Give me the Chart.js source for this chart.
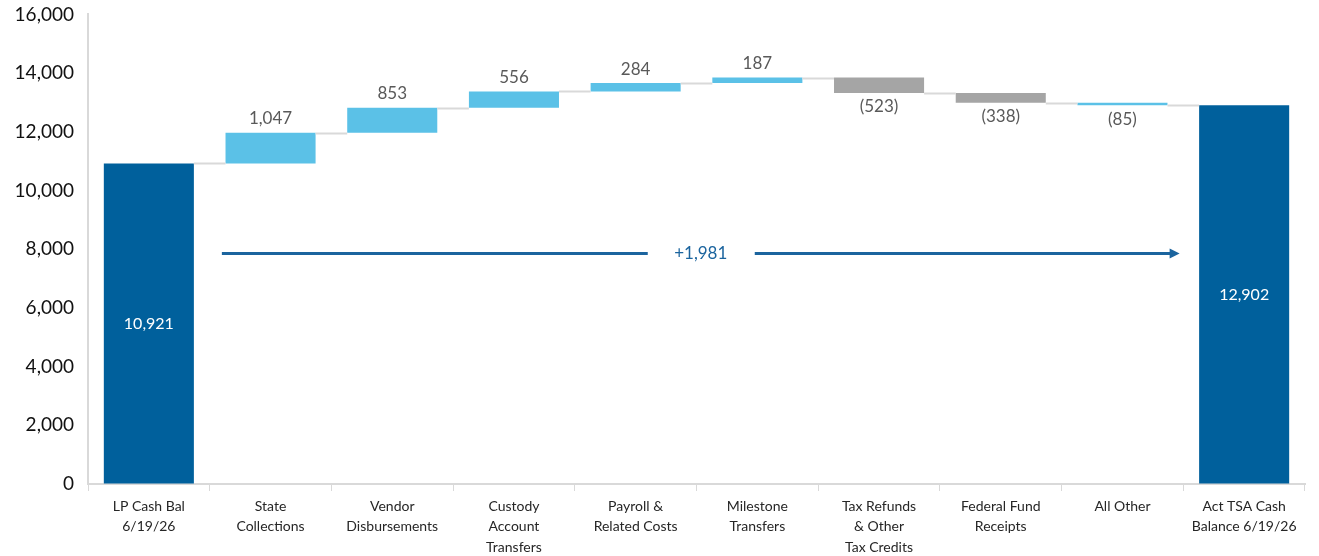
<!DOCTYPE html>
<html><head><meta charset="utf-8">
<script src="https://cdn.jsdelivr.net/npm/chart.js@4"></script>
<style>html,body{margin:0;padding:0;background:#fff}#wrap{width:1319px;height:556px}</style>
</head><body><div id="wrap"><canvas id="c"></canvas></div>
<script>
const categories = [["LP Cash Bal","6/19/26"],["State","Collections"],["Vendor","Disbursements"],["Custody","Account","Transfers"],["Payroll &","Related Costs"],["Milestone","Transfers"],["Tax Refunds","& Other","Tax Credits"],["Federal Fund","Receipts"],["All Other"],["Act TSA Cash","Balance 6/19/26"]];
const changes = [10921, 1047, 853, 556, 284, 187, -523, -338, -85, 12902];
const isTotal = [true,false,false,false,false,false,false,false,false,true];
const barColorKey = ["total","up","up","up","up","up","down","down","up","total"];
const netChangeLabel = "+1,981";
const netArrowLevel = 7850;
const yTicks = {min:0, max:16000, step:2000};

const COLORS = {total:"#00609C", up:"#5BC1E7", down:"#A5A5A5"};
const FONT = "Lato, 'Open Sans', sans-serif";

const ranges = [];
let run = 0;
changes.forEach((v,i)=>{
  if(isTotal[i]){ ranges.push([0,v]); run = v; }
  else { ranges.push([run, run+v]); run += v; }
});
const fmt = n => Math.abs(n).toLocaleString('en-US');

const labelPlugin = {
  id:'wf',
  afterDatasetsDraw(chart){
    const ctx = chart.ctx, meta = chart.getDatasetMeta(0), y = chart.scales.y, x = chart.scales.x;
    ctx.save();
    ctx.strokeStyle = "#D9D9D9"; ctx.lineWidth = 2;
    for(let i=0;i<ranges.length-1;i++){
      const b = meta.data[i], n = meta.data[i+1];
      const py = Math.round(y.getPixelForValue(ranges[i][1]))+0.5;
      ctx.beginPath(); ctx.moveTo(b.x + b.width/2, py); ctx.lineTo(n.x - n.width/2, py); ctx.stroke();
    }
    ctx.textAlign = 'center'; ctx.textBaseline = 'middle';
    meta.data.forEach((b,i)=>{
      const v = changes[i];
      if(isTotal[i]){
        ctx.fillStyle = '#fff'; ctx.font = "16px " + FONT;
        ctx.fillText(fmt(v), b.x, y.getPixelForValue(v/2));
      } else {
        ctx.fillStyle = '#595959'; ctx.font = "17px " + FONT;
        const hi = Math.max(...ranges[i]), lo = Math.min(...ranges[i]);
        if(v>=0) ctx.fillText(fmt(v), b.x, y.getPixelForValue(hi) - 14);
        else ctx.fillText('(' + fmt(v) + ')', b.x, y.getPixelForValue(lo) + 14);
      }
    });
    const ay = y.getPixelForValue(netArrowLevel);
    const x0 = x.getPixelForValue(0) + (x.getPixelForValue(1)-x.getPixelForValue(0))*0.6;
    const x1 = x.getPixelForValue(8) + (x.getPixelForValue(9)-x.getPixelForValue(8))*0.47;
    const xm = (x0+x1)/2;
    ctx.strokeStyle = "#1B649E"; ctx.fillStyle = "#1B649E"; ctx.lineWidth = 3;
    ctx.beginPath(); ctx.moveTo(x0, ay); ctx.lineTo(xm-53, ay); ctx.stroke();
    ctx.beginPath(); ctx.moveTo(xm+54, ay); ctx.lineTo(x1-9, ay); ctx.stroke();
    ctx.beginPath(); ctx.moveTo(x1, ay); ctx.lineTo(x1-10, ay-5); ctx.lineTo(x1-10, ay+5); ctx.closePath(); ctx.fill();
    ctx.font = "17px " + FONT;
    ctx.fillText(netChangeLabel, xm, ay);
    ctx.restore();
  }
};

new Chart(document.getElementById('c'), {
  type:'bar',
  data:{ labels: categories, datasets:[{ data: ranges, backgroundColor: barColorKey.map(k=>COLORS[k]), borderWidth:0, barPercentage:0.74, categoryPercentage:1 }]},
  options:{
    responsive:true, maintainAspectRatio:false, animation:false,
    layout:{padding:{top:4,right:14,left:0,bottom:0}},
    plugins:{legend:{display:false}, tooltip:{enabled:false}},
    scales:{
      x:{
        grid:{offset:true, drawOnChartArea:false, color:'#D9D9D9', tickLength:7, lineWidth:1},
        border:{color:'#D9D9D9', width:2},
        ticks:{color:'#262626', font:{family:FONT, size:14, lineHeight:1.47}, maxRotation:0, autoSkip:false, padding:5},
        afterFit(s){ s.height = 72; }
      },
      y:{
        min:yTicks.min, max:yTicks.max,
        grid:{display:true, drawOnChartArea:false, drawTicks:true, tickLength:11, color:'rgba(0,0,0,0)'},
        border:{color:'#D9D9D9', width:2},
        ticks:{stepSize:yTicks.step, color:'#111', font:{family:FONT, size:19}, padding:3, callback:v=>v.toLocaleString('en-US')},
        afterFit(s){ s.width = 88; }
      }
    }
  },
  plugins:[labelPlugin]
});
</script></body></html>
